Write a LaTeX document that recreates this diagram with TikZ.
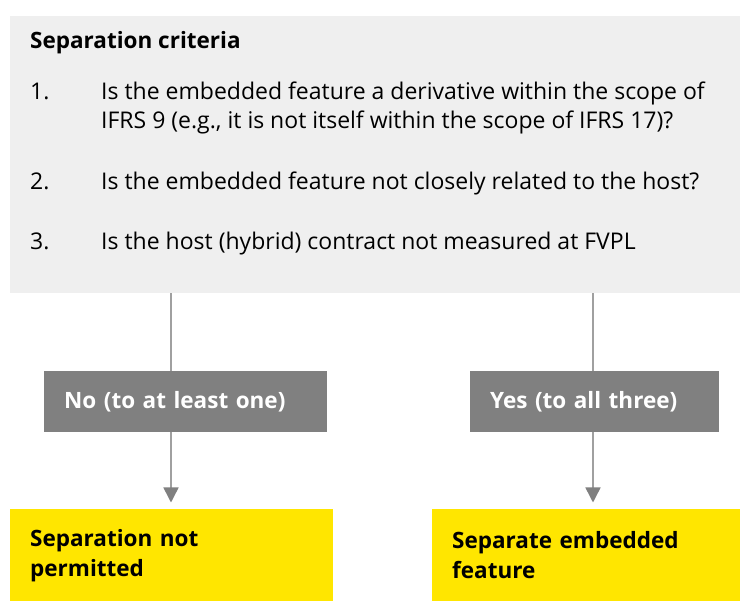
\documentclass[tikz,border=0pt]{standalone}
\usepackage{fontspec}
\setmainfont{Open Sans}
\usetikzlibrary{arrows.meta}
\definecolor{critgray}{HTML}{EFEFEF}
\definecolor{answergray}{HTML}{808080}
\definecolor{linegray}{HTML}{A0A0A0}
\definecolor{eyyellow}{HTML}{FFE600}
\begin{document}
\begin{tikzpicture}[x=1pt,y=-1pt,
    txt/.style = {font=\fontsize{23}{29}\selectfont, inner sep=0pt, anchor=base west},
    box/.style = {anchor=north west, inner xsep=20pt, inner ysep=0pt, align=left},
    answer/.style = {box, fill=answergray, text=white, minimum height=61pt, font=\bfseries\fontsize{22.5}{29}\selectfont},
    result/.style = {box, fill=eyyellow, minimum height=92pt, font=\bfseries\fontsize{22.5}{30}\selectfont},
    link/.style = {draw=linegray, line width=1.5pt}]
    \useasboundingbox (0,0) rectangle (740,601);
    \node[anchor=north west, fill=critgray, minimum width=730pt, minimum height=277pt, inner sep=0pt] (crit) at (10,16) {};
    \node[txt, font=\bfseries\fontsize{22.5}{29}\selectfont] (title) at (30,49) {Separation criteria};
    \foreach \n/\y/\l/\q in {1/100/129/{Is the embedded feature a derivative within the scope of\\IFRS 9 (e.g., it is not itself within the scope of IFRS 17)?},
        2/190/190/{Is the embedded feature not closely related to the host?},
        3/250/250/{Is the host (hybrid) contract not measured at FVPL}}{
        \node[txt] (num\n) at (30,\y) {\n.};
        \node[txt, align=left] (item\n) at (101,\l) {\q};
    }
    \node[answer, text width=243pt] (no) at (44,371) {No (to at least one)};
    \node[answer, text width=209pt] (yes) at (470,371) {Yes (to all three)};
    \node[result, text width=283pt] (nosep) at (10,509) {Separation not\\permitted};
    \node[result, text width=268pt] (sep) at (432,509) {Separate embedded\\feature};
    \coordinate (nox) at (171,0);
    \coordinate (yesx) at (593,0);
    \draw[link] (crit.south -| nox) -- (no.north -| nox);
    \draw[link] (crit.south -| yesx) -- (yes.north -| yesx);
    \draw[link, shorten >=6.5pt, -{Triangle[length=15pt,width=15pt,color=answergray]}] (no.south -| nox) -- (nosep.north -| nox);
    \draw[link, shorten >=6.5pt, -{Triangle[length=15pt,width=15pt,color=answergray]}] (yes.south -| yesx) -- (sep.north -| yesx);
\end{tikzpicture}
\end{document}
